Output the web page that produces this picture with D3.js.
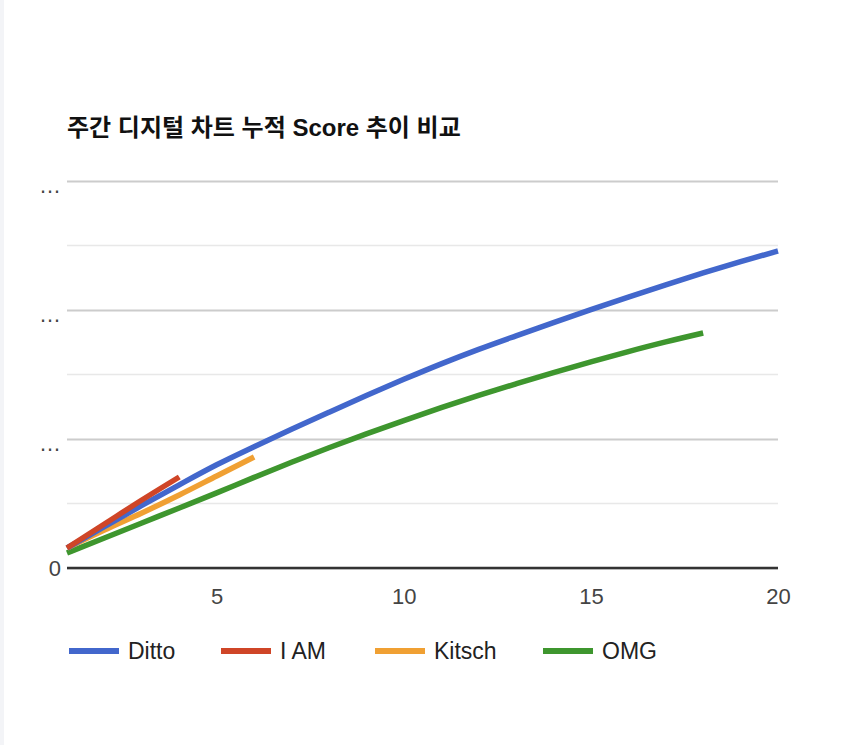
<!DOCTYPE html>
<html><head><meta charset="utf-8">
<script src="https://cdn.jsdelivr.net/npm/d3@7"></script>
<style>
html,body{margin:0;padding:0;background:#ffffff;}
text{font-family:Arial,"Liberation Sans","Noto Sans CJK KR",sans-serif;}
</style></head>
<body>
<svg id="chart" width="850" height="745"></svg>
<script>
const title = "주간 디지털 차트 누적 Score 추이 비교";
const seriesNames = ["Ditto", "I AM", "Kitsch", "OMG"];
const seriesColors = ["#4267cc", "#cf4527", "#f0a033", "#3e962e"];
const dittoValues = [310, 640, 970, 1290, 1600, 1880, 2150, 2415, 2675, 2925, 3165, 3390, 3600, 3805, 4005, 4200, 4390, 4575, 4750, 4915];
const iamValues = [310, 682, 1054, 1411];
const kitschValues = [310, 589, 853, 1132, 1426, 1721];
const omgValues = [233, 465, 698, 930, 1165, 1405, 1640, 1865, 2080, 2285, 2485, 2675, 2855, 3030, 3195, 3355, 3505, 3643];
const xTicks = [5, 10, 15, 20];
const yMajorTicks = [0, 2000, 4000, 6000];
const yMinorTicks = [1000, 3000, 5000];
const yTickLabels = ["0", "…", "…", "…"];

const allValues = [dittoValues, iamValues, kitschValues, omgValues];
const svg = d3.select("#chart");
const margin = {left: 67, right: 72, top: 181, bottom: 177};
const W = 850, H = 745;

const x = d3.scaleLinear().domain([1, 20]).range([margin.left, W - margin.right]);
const y = d3.scaleLinear().domain([0, 6000]).range([H - margin.bottom, margin.top]);

svg.append("rect").attr("x",0).attr("y",0).attr("width",W).attr("height",H).attr("fill","#ffffff");
svg.append("rect").attr("x",0).attr("y",0).attr("width",4).attr("height",H).attr("fill","#f3f4f7");

svg.append("text").attr("x", 67).attr("y", 136)
  .attr("font-size", 24).attr("font-weight", "bold").attr("fill", "#111")
  .text(title);

// minor gridlines
svg.append("g").selectAll("line").data(yMinorTicks).join("line")
  .attr("x1", x.range()[0]).attr("x2", x.range()[1])
  .attr("y1", d => y(d)).attr("y2", d => y(d))
  .attr("stroke", "#e8e8e8").attr("stroke-width", 1.5);

// major gridlines via axis
const yAxis = d3.axisLeft(y).tickValues(yMajorTicks)
  .tickSize(-(x.range()[1] - x.range()[0]))
  .tickFormat((d, i) => yTickLabels[i]);
const gy = svg.append("g").attr("transform", `translate(${margin.left},0)`).call(yAxis);
gy.select(".domain").remove();
gy.selectAll(".tick line").attr("stroke", "#cccccc").attr("stroke-width", 2);
gy.selectAll(".tick text").attr("x", -6).attr("font-size", 22).attr("fill", "#444").attr("font-family", "Arial,'Liberation Sans',sans-serif")
  .attr("dy", (d) => d === 0 ? "0.34em" : "0.5em");

// baseline
svg.append("line").attr("x1", x.range()[0]).attr("x2", x.range()[1])
  .attr("y1", y(0)).attr("y2", y(0)).attr("stroke", "#333").attr("stroke-width", 2.5);

// x axis labels
const xAxis = d3.axisBottom(x).tickValues(xTicks).tickSize(0).tickPadding(20);
const gx = svg.append("g").attr("transform", `translate(0,${y(0)})`).call(xAxis);
gx.select(".domain").remove();
gx.selectAll(".tick text").attr("font-size", 22).attr("fill", "#444").attr("font-family", "Arial,'Liberation Sans',sans-serif");

// lines
const line = d3.line().x((d, i) => x(i + 1)).y(d => y(d)).curve(d3.curveMonotoneX);
const drawOrder = [3, 2, 0, 1];
drawOrder.forEach(k => {
  svg.append("path").datum(allValues[k]).attr("d", line)
    .attr("fill", "none").attr("stroke", seriesColors[k]).attr("stroke-width", 5.5)
    .attr("stroke-linecap", "butt").attr("stroke-linejoin", "round");
});

// legend
const legendX = [69, 221, 375, 543];
const lg = svg.append("g").selectAll("g").data(seriesNames).join("g")
  .attr("transform", (d, i) => `translate(${legendX[i]},651)`);
lg.append("line").attr("x1", 0).attr("x2", 50).attr("y1", 0).attr("y2", 0)
  .attr("stroke", (d, i) => seriesColors[i]).attr("stroke-width", 6);
lg.append("text").attr("x", 59).attr("y", 0).attr("dy", "0.35em")
  .attr("font-size", 23).attr("fill", "#222").attr("font-family", "Arial,'Liberation Sans',sans-serif")
  .text(d => d);
</script>
</body></html>
